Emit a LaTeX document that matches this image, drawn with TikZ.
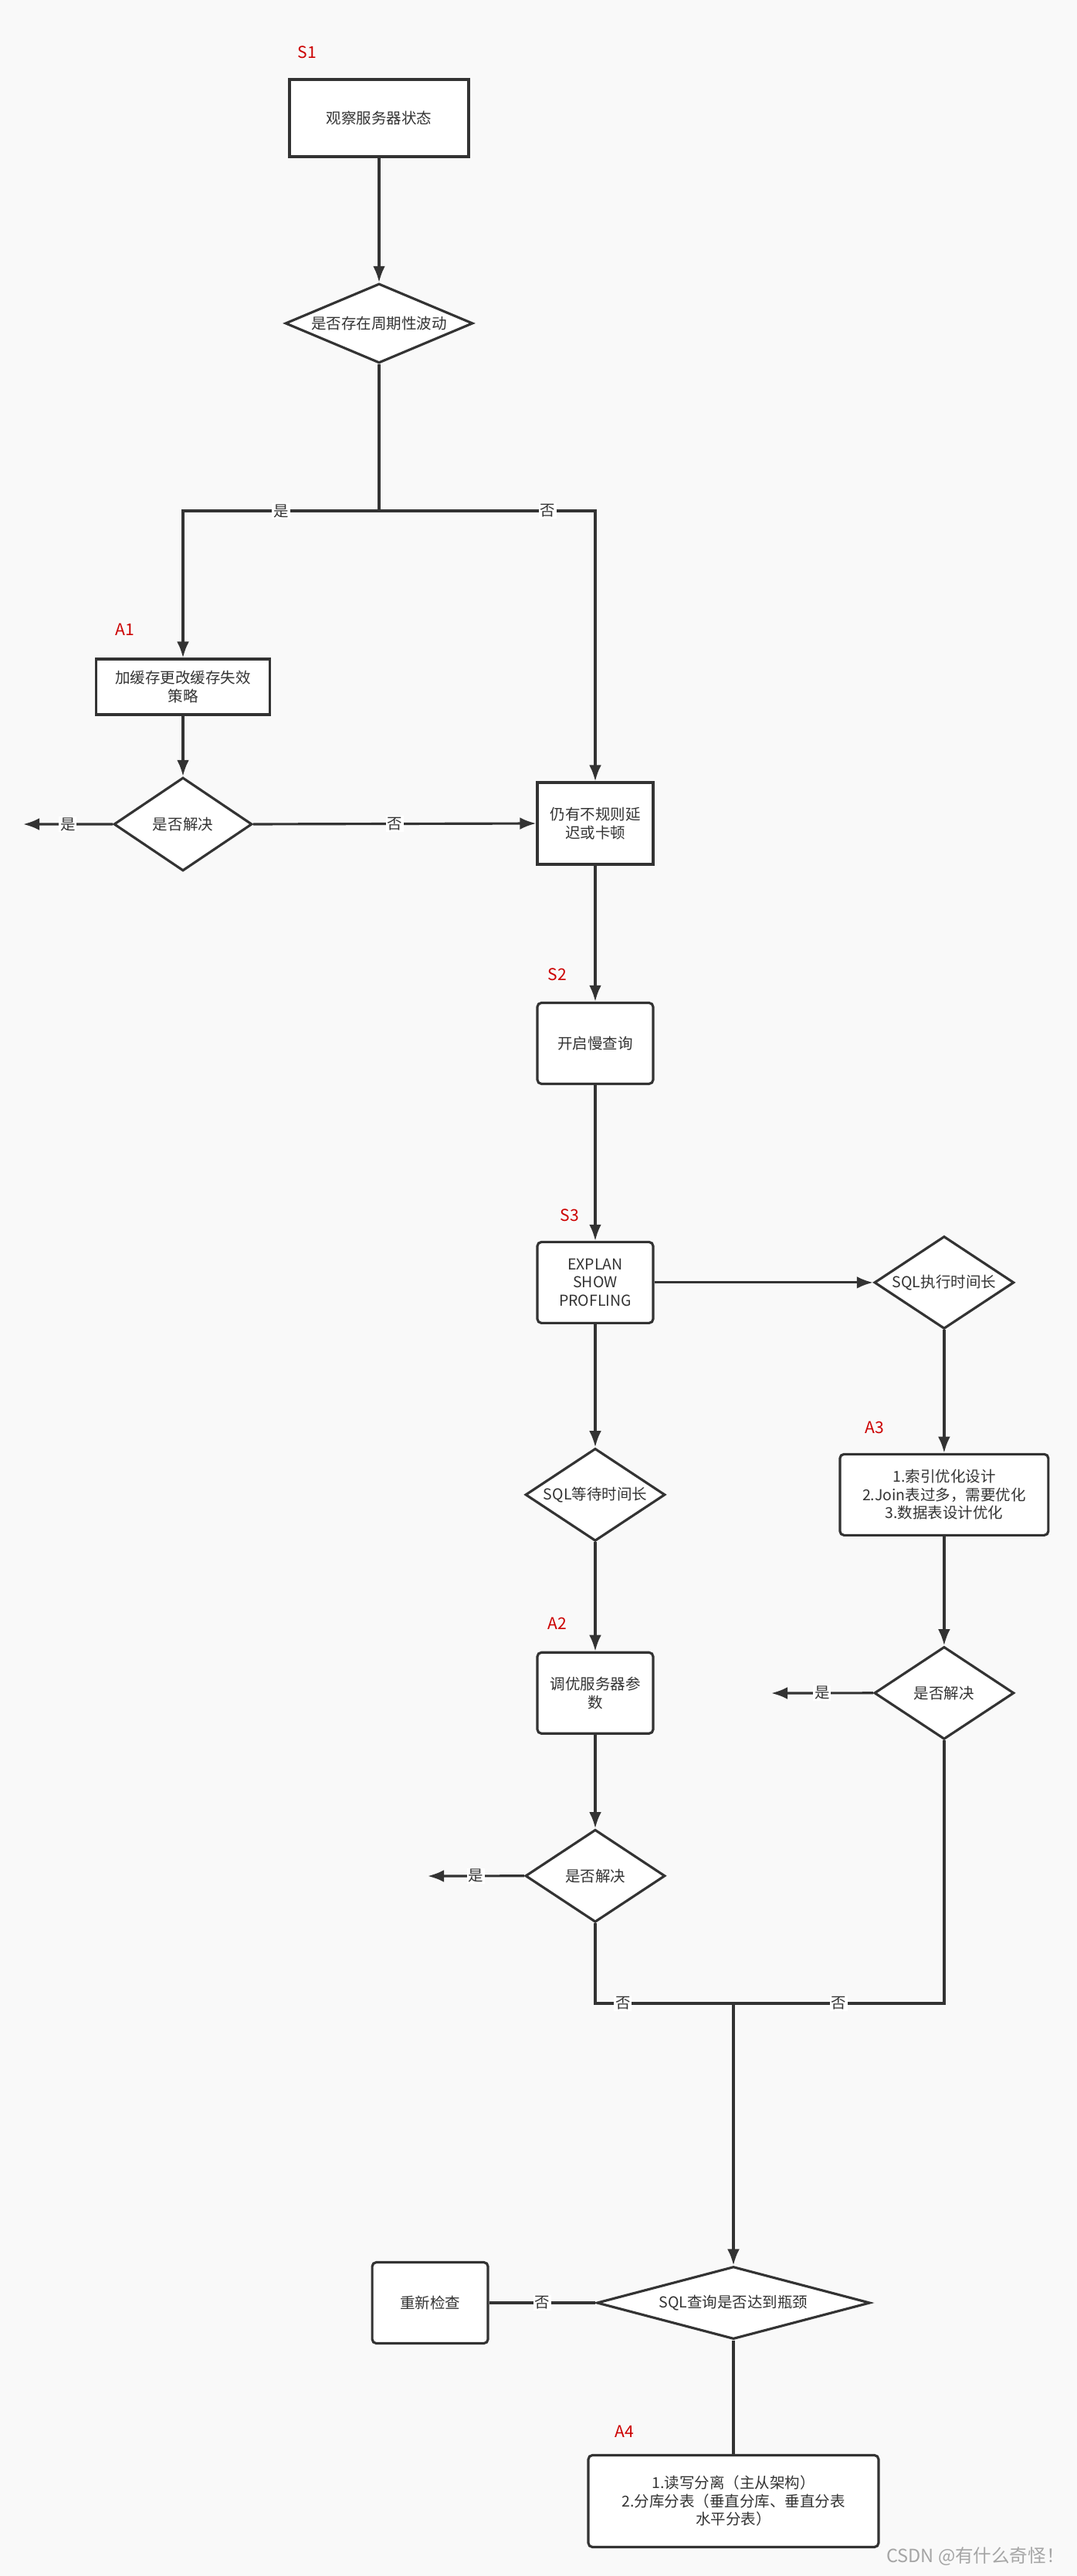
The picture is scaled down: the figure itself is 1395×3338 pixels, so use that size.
\documentclass[tikz,border=0pt]{standalone}
\usepackage{fontspec}
\setmainfont{Noto Sans CJK SC}
\usetikzlibrary{shapes,arrows,arrows.meta}
\definecolor{inkgray}{RGB}{51,51,51}
\definecolor{tagred}{RGB}{204,0,0}
\definecolor{pagebg}{RGB}{249,249,249}
\definecolor{wmgray}{RGB}{165,165,165}
\tikzstyle{line} = [draw, -{Latex[length=12pt,width=9pt]}]
\tikzstyle{block} = [rectangle, draw, fill=white, align=center, inner sep=2pt, minimum width=3cm, minimum height=2.1cm]
\tikzstyle{rblock} = [block, rounded corners=3pt]
\tikzstyle{decision} = [diamond, draw, fill=white, align=center, inner sep=0pt, aspect=1.5, minimum width=3.62cm, minimum height=2.4cm]
\tikzstyle{tag} = [text=tagred, font=\fontsize{12}{14}\selectfont]
\tikzstyle{yesno} = [fill=white, inner sep=1pt, font=\fontsize{11.1}{13}\selectfont]

\begin{document}
\begin{tikzpicture}[x=0.02cm, y=-0.02cm, line width=1.8pt, color=inkgray, font=\fontsize{11.1}{13.4}\selectfont]
	\path [use as bounding box, fill=pagebg] (0,0) rectangle (1395,3338);
	% S1
	\node [block, minimum width=4.64cm, minimum height=2cm] (observe) at (491,153) {观察服务器状态};
	\node [decision, aspect=2.36, minimum width=4.86cm, minimum height=2.06cm, node distance=5.32cm, below of=observe] (periodic) {是否存在周期性波动};
	\coordinate (fork) at (491,662);
	% A1
	\node [block, minimum width=4.5cm, minimum height=1.44cm] (cache) at (237,890) {加缓存更改缓存失效\\策略};
	\node [decision, minimum width=3.58cm, minimum height=2.42cm, node distance=3.56cm, below of=cache] (solved1) {是否解决};
	\coordinate (yes1) at (30,1068);
	\node [block, minimum height=2.12cm] (lag) at (771,1067) {仍有不规则延\\迟或卡顿};
	% S2, S3
	\node [rblock, node distance=5.7cm, below of=lag] (slowlog) {开启慢查询};
	\node [rblock, node distance=6.2cm, below of=slowlog] (explain) {EXPLAN\\SHOW\\PROFLING};
	\node [decision, node distance=9.04cm, right of=explain] (exectime) {SQL执行时间长};
	\node [decision, node distance=5.5cm, below of=explain] (waittime) {SQL等待时间长};
	% A3
	\node [rblock, minimum width=5.4cm, node distance=5.5cm, below of=exectime] (index) {1.索引优化设计\\2.Join表过多，需要优化\\3.数据表设计优化};
	\node [decision, node distance=5.14cm, below of=index] (solved3) {是否解决};
	\coordinate (yes3) at (999,2194);
	% A2
	\node [rblock, node distance=5.14cm, below of=waittime] (tune) {调优服务器参\\数};
	\node [decision, node distance=4.74cm, below of=tune] (solved2) {是否解决};
	\coordinate (yes2) at (554,2431);
	\coordinate (merge) at (950,2596);
	% A4
	\node [decision, aspect=3.77, minimum width=7.08cm, minimum height=1.88cm] (bottleneck) at (950,2984) {SQL查询是否达到瓶颈};
	\node [rblock, node distance=7.86cm, left of=bottleneck] (recheck) {重新检查};
	\node [rblock, minimum width=7.52cm, minimum height=2.38cm, node distance=5.14cm, below of=bottleneck] (split) {1.读写分离（主从架构）\\2.分库分表（垂直分库、垂直分表\\水平分表）};
	\node [tag] (s1) at (398,68) {S1};
	\node [tag] (a1) at (162,816) {A1};
	\node [tag] (s2) at (722,1263) {S2};
	\node [tag] (s3) at (738,1575) {S3};
	\node [tag] (a3) at (1133,1850) {A3};
	\node [tag] (a2) at (722,2104) {A2};
	\node [tag] (a4) at (809,3151) {A4};
	\node [anchor=east, text=wmgray, font=\fontsize{13.4}{16}\selectfont] (watermark) at (1386,3313) {CSDN @有什么奇怪！};
	\path [line] (observe) -> (periodic);
	\draw (periodic.south) -- (fork);
	\path [line] (fork) -| node [yesno, pos=0.25] {是} (cache.north);
	\path [line] (fork) -| node [yesno, pos=0.39] {否} (lag.north);
	\path [line] (cache) -> (solved1);
	\path [line] (solved1.west) -- node [yesno] {是} (yes1);
	\path [line] (solved1.east) -- node [yesno] {否} (lag.west);
	\path [line] (lag) -> (slowlog);
	\path [line] (slowlog) -> (explain);
	\path [line] (explain) -> (exectime);
	\path [line] (explain) -> (waittime);
	\path [line] (exectime) -> (index);
	\path [line] (index) -> (solved3);
	\path [line] (waittime) -> (tune);
	\path [line] (tune) -> (solved2);
	\path [line] (solved3.west) -- node [yesno] {是} (yes3);
	\path [line] (solved2.west) -- node [yesno] {是} (yes2);
	\draw (solved2.south) |- node [yesno, pos=0.6] {否} (merge);
	\draw (solved3.south) |- node [yesno, pos=0.75] {否} (merge);
	\path [line] (merge) -> (bottleneck);
	\draw (bottleneck.west) -- node [yesno] {否} (recheck.east);
	\draw (bottleneck.south) -- (split.north);
\end{tikzpicture}
\end{document}
